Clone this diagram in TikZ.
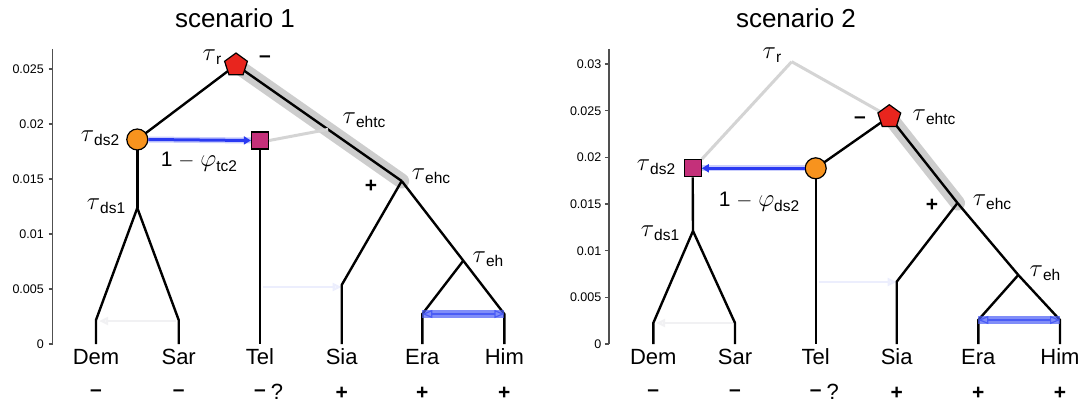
\documentclass[tikz,border=0pt]{standalone}
\usepackage{fontspec}
\usepackage{amsmath}
\setmainfont{Liberation Sans}
\usetikzlibrary{shapes.geometric,arrows.meta}

\definecolor{nodered}{HTML}{E8251E}
\definecolor{nodeorange}{HTML}{F7931E}
\definecolor{nodemag}{HTML}{C4307A}
\definecolor{flowblue}{HTML}{2A3AF2}
\definecolor{swapblue}{HTML}{4A5CF5}
\definecolor{hlgray}{HTML}{CDCDCD}
\definecolor{ghostgray}{HTML}{D4D4D4}
\definecolor{axisgray}{HTML}{505050}
\definecolor{paleblue}{HTML}{ECEEFD}
\definecolor{palegray}{HTML}{F1F1F3}

% tau with a sans subscript
\newcommand\taulbl[1]{{\fontsize{31}{32}\selectfont$\tau$}\raisebox{-4.5pt}{\fontsize{15.5}{17}\selectfont #1}}
% 1 - phi with a sans subscript
\newcommand\philbl[1]{1 $-$ {\fontsize{30}{32}\selectfont$\varphi$}\raisebox{-4.5pt}{\fontsize{15.5}{17}\selectfont #1}}

\begin{document}
\begin{tikzpicture}[x=1pt,y=-1pt,
  branch/.style={line width=2.4pt, black},
  ghost/.style={line width=3pt, ghostgray},
  hilite/.style={line width=15pt, hlgray, line cap=round},
  axisline/.style={line width=1.4pt, axisgray},
  ticklab/.style={font=\fontsize{12.5}{14}\selectfont, anchor=east, inner sep=0pt},
  leaflab/.style={font=\fontsize{22}{26}\selectfont},
  taulab/.style={font=\fontsize{21}{24}\selectfont, inner sep=0pt},
  signlab/.style={font=\fontsize{21}{24}\selectfont\bfseries},
  heading/.style={font=\fontsize{26}{30}\selectfont},
  pent/.style={regular polygon, regular polygon sides=5, draw=black, line width=1.2pt,
    fill=nodered, minimum size=24pt, inner sep=0pt},
  circ/.style={circle, draw=black, line width=1.2pt, fill=nodeorange, minimum size=21pt, inner sep=0pt},
  sqr/.style={rectangle, draw=black, line width=1.2pt, fill=nodemag, minimum size=17pt, inner sep=0pt},
  flowglow/.style={line width=6pt, flowblue, opacity=0.25},
  flow/.style={line width=3pt, flowblue, -{Triangle[length=7pt,width=8pt]}},
  swapband/.style={line width=8pt, swapblue, opacity=0.7},
  swaptips/.style={line width=1.2pt, swapblue, {Triangle[open,length=10pt,width=8pt]}-{Triangle[open,length=10pt,width=8pt]}},
  faintflow/.style={line width=2.5pt, paleblue, -{Triangle[open,length=9pt,width=8pt]}},
  faintswap/.style={line width=2.5pt, palegray, {Triangle[open,length=9pt,width=8pt]}-},
]
\useasboundingbox (0,0) rectangle (1079,404);

% ---------------- scenario 1 ----------------
\node[heading] (title1) at (235,18) {scenario 1};

\draw[axisline] (52.7,49) -- (52.7,344);
\foreach \v/\t in {0/0, 0.005/0.005, 0.01/0.01, 0.015/0.015, 0.02/0.02, 0.025/0.025} {
  \draw[axisline] (48.5,{344-\v*11000}) -- (52.7,{344-\v*11000});
  \node[ticklab] at (44,{344-\v*11000}) {\t};
}

\coordinate (ds1a) at (137.3,208);
\coordinate (ehca) at (401.7,181);
\coordinate (eha) at (463.3,260.7);
\coordinate (ehtca) at (328,129.4);
\coordinate (demTa) at (96,320);   \coordinate (demBa) at (96,344);
\coordinate (sarTa) at (178.7,320); \coordinate (sarBa) at (178.7,344);
\coordinate (telBa) at (260,344);
\coordinate (siaTa) at (341.7,285); \coordinate (siaBa) at (341.7,344);
\coordinate (eraTa) at (422.3,314); \coordinate (eraBa) at (422.3,344);
\coordinate (himTa) at (504.3,314); \coordinate (himBa) at (504.3,344);
\coordinate (fa1s) at (263,287); \coordinate (fa1e) at (341.7,287);
\coordinate (fd1s) at (99,321);  \coordinate (fd1e) at (176,321);

% faint gene-flow traces
\draw[faintflow] (fa1s) -- (fa1e);
\draw[faintswap] (fd1s) -- (fd1e);

% highlighted branch
\coordinate (r1c) at (236,65);
\draw[hilite] (r1c) -- (ehca);

% tree
\draw[branch] (r1c) -- (137.3,139.5);
\draw[branch] (r1c) -- (ehca);
\draw[branch] (137.3,139.5) -- (ds1a);
\draw[branch] (ds1a) -- (demTa) -- (demBa);
\draw[branch] (ds1a) -- (sarTa) -- (sarBa);
\draw[branch] (260,140.5) -- (telBa);
\draw[branch] (ehca) -- (siaTa) -- (siaBa);
\draw[branch] (ehca) -- (eha) -- (himTa) -- (himBa);
\draw[branch] (eha) -- (eraTa) -- (eraBa);

\node[sqr] (tc2a) at (260,140.5) {};
\draw[ghost] (tc2a.east) -- (ehtca);
\node[pent] (r1) at (r1c) {};
\node[circ] (ds2a) at (137.3,139.5) {};

\draw[flowglow] (ds2a.east) -- (tc2a.west);
\draw[flow] (ds2a.east) -- (tc2a.west);

\draw[swapband] (eraTa) -- (himTa);
\draw[swaptips] (eraTa) -- (himTa);

\node[taulab] (lr1) at (212,57) {\taulbl{r}};
\node[signlab] (mr1) at (265,59) {–};
\node[taulab] (lds2a) at (100,138) {\taulbl{ds2}};
\node[taulab] (lds1a) at (106,206) {\taulbl{ds1}};
\node[taulab] (lphia) at (199,162) {\philbl{tc2}};
\node[taulab] (lehtca) at (364,120) {\taulbl{ehtc}};
\node[taulab] (lehca) at (431,176) {\taulbl{ehc}};
\node[signlab] (pehca) at (371,186) {+};
\node[taulab] (leha) at (488,259) {\taulbl{eh}};

\foreach \x/\n/\s in {96/Dem/–, 178.7/Sar/–, 341.7/Sia/+, 422.3/Era/+, 504.3/Him/+} {
  \node[leaflab] at (\x,357) {\n};
  \node[signlab] at (\x,393) {\s};
}
\node[leaflab] (tel1) at (260,357) {Tel};
\node[signlab] (tels1) at (260,393) {–};
\node[leaflab] (telq1) at (277,392) {?};

% ---------------- scenario 2 ----------------
\node[heading] (title2) at (796,18) {scenario 2};

\draw[axisline] (609,49) -- (609,344);
\foreach \v/\t in {0/0, 0.005/0.005, 0.01/0.01, 0.015/0.015, 0.02/0.02, 0.025/0.025, 0.03/0.03} {
  \draw[axisline] (604.8,{344-\v*9333}) -- (609,{344-\v*9333});
  \node[ticklab] at (601.5,{344-\v*9333}) {\t};
}

\coordinate (r2) at (791.7,61.7);
\coordinate (ehcb) at (957.5,203);
\coordinate (ehb) at (1018.3,275);
\coordinate (ds1b) at (693,231);
\coordinate (demTb) at (653.3,323); \coordinate (demBb) at (653.3,344);
\coordinate (sarTb) at (735,323);   \coordinate (sarBb) at (735,344);
\coordinate (telBb) at (815.7,344);
\coordinate (siaTb) at (896.7,281.7); \coordinate (siaBb) at (896.7,344);
\coordinate (eraTb) at (978.3,320); \coordinate (eraBb) at (978.3,344);
\coordinate (himTb) at (1060,320);  \coordinate (himBb) at (1060,344);
\coordinate (fa2s) at (819,282); \coordinate (fa2e) at (896.7,282);
\coordinate (fd2s) at (656,323); \coordinate (fd2e) at (733,323);
\coordinate (ehtcc) at (889.3,116.7);

\draw[faintflow] (fa2s) -- (fa2e);
\draw[faintswap] (fd2s) -- (fd2e);

\draw[hilite] (ehtcc) -- (ehcb);

\node[sqr] (ds2b) at (692.7,168.3) {};
\draw[ghost] (r2) -- (ds2b.north east);
\draw[ghost] (r2) -- (ehtcc);

\draw[branch] (815.7,168.3) -- (ehtcc);
\draw[branch] (ehtcc) -- (ehcb);
\draw[branch] (815.7,168.3) -- (telBb);
\draw[branch] (ds2b.south) -- (ds1b);
\draw[branch] (ds1b) -- (demTb) -- (demBb);
\draw[branch] (ds1b) -- (sarTb) -- (sarBb);
\draw[branch] (ehcb) -- (siaTb) -- (siaBb);
\draw[branch] (ehcb) -- (ehb) -- (himTb) -- (himBb);
\draw[branch] (ehb) -- (eraTb) -- (eraBb);

\node[pent] (ehtcb) at (ehtcc) {};
\node[circ] (tcb) at (815.7,168.3) {};

\draw[flowglow] (tcb.west) -- (ds2b.east);
\draw[flow] (tcb.west) -- (ds2b.east);

\draw[swapband] (eraTb) -- (himTb);
\draw[swaptips] (eraTb) -- (himTb);

\node[taulab] (lr2) at (772,55) {\taulbl{r}};
\node[taulab] (lds2b) at (656,167) {\taulbl{ds2}};
\node[taulab] (lds1b) at (660,233) {\taulbl{ds1}};
\node[taulab] (lphib) at (759,202) {\philbl{ds2}};
\node[signlab] (mehtcb) at (860,120) {–};
\node[taulab] (lehtcb) at (934,117) {\taulbl{ehtc}};
\node[taulab] (lehcb) at (992,202) {\taulbl{ehc}};
\node[signlab] (pehcb) at (932,205) {+};
\node[taulab] (lehb) at (1045,273) {\taulbl{eh}};

\foreach \x/\n/\s in {653.3/Dem/–, 735/Sar/–, 896.7/Sia/+, 978.3/Era/+, 1060/Him/+} {
  \node[leaflab] at (\x,357) {\n};
  \node[signlab] at (\x,393) {\s};
}
\node[leaflab] (tel2) at (815.7,357) {Tel};
\node[signlab] (tels2) at (815.7,393) {–};
\node[leaflab] (telq2) at (832.7,392) {?};
\end{tikzpicture}
\end{document}
